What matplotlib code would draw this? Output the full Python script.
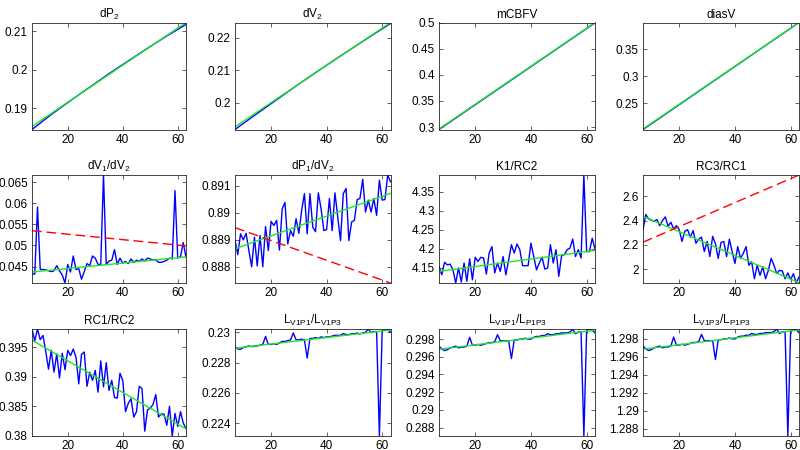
import matplotlib
matplotlib.use('Agg')
import matplotlib.pyplot as plt
import numpy as np

plt.rcParams['font.family'] = ['Liberation Sans', 'DejaVu Sans']
plt.rcParams['mathtext.fontset'] = 'custom'
plt.rcParams['mathtext.rm'] = 'Liberation Sans'
plt.rcParams['mathtext.it'] = 'Liberation Sans:italic'
plt.rcParams['mathtext.default'] = 'regular'
plt.rcParams['font.size'] = 8.5

# x axis: index of the sample
x = list(range(7, 64))
x_coarse = [7, 14, 21, 28, 35, 42, 49, 56, 63]
x_ends = [7, 63]
x_ticks = [20, 40, 60]

titles = ['dP$_2$', 'dV$_2$', 'mCBFV', 'diasV',
          'dV$_1$/dV$_2$', 'dP$_1$/dV$_2$', 'K1/RC2', 'RC3/RC1',
          'RC1/RC2', 'L$_{V1P1}$/L$_{V1P3}$', 'L$_{V1P1}$/L$_{P1P3}$', 'L$_{V1P3}$/L$_{P1P3}$']

# smooth ones (top row), read every 7 samples
dP2 = [0.1845, 0.1884, 0.1920, 0.1955, 0.1990, 0.2023, 0.2056, 0.2088, 0.2118]
dV2 = [0.1919, 0.1962, 0.2004, 0.2046, 0.2087, 0.2127, 0.2166, 0.2205, 0.2243]
mCBFV = [0.2955, 0.3210, 0.3465, 0.3720, 0.3975, 0.4230, 0.4485, 0.4740, 0.4995]
diasV = [0.2015, 0.2262, 0.2510, 0.2757, 0.3005, 0.3252, 0.3500, 0.3747, 0.3995]

dV1_dV2 = [0.0433, 0.0432, 0.0591, 0.0443, 0.0443, 0.0442, 0.0440, 0.0438, 0.0440, 0.0452,
           0.0440, 0.0430, 0.0411, 0.0455, 0.0437, 0.0475, 0.0443, 0.0445, 0.0420, 0.0438,
           0.0457, 0.0452, 0.0475, 0.0470, 0.0455, 0.0455, 0.0667, 0.0455, 0.0463, 0.0465,
           0.0490, 0.0455, 0.0470, 0.0458, 0.0462, 0.0457, 0.0468, 0.0460, 0.0465, 0.0462,
           0.0468, 0.0463, 0.0470, 0.0468, 0.0465, 0.0466, 0.0460, 0.0460, 0.0462, 0.0465,
           0.0470, 0.0468, 0.0630, 0.0470, 0.0473, 0.0507, 0.0472]

dP1_dV2 = [0.8890, 0.88845, 0.88922, 0.8890, 0.88924, 0.8886, 0.8880, 0.8891, 0.88803, 0.88916,
           0.8880, 0.88949, 0.8886, 0.88968, 0.88953, 0.88972, 0.88862, 0.89015, 0.89038, 0.88885,
           0.88934, 0.88913, 0.88978, 0.88924, 0.89009, 0.89071, 0.88922, 0.89071, 0.88947, 0.8893,
           0.89074, 0.89015, 0.88934, 0.88938, 0.89053, 0.88934, 0.89074, 0.88984, 0.88897, 0.89071,
           0.8909, 0.88897, 0.88966, 0.88972, 0.89049, 0.89053, 0.89124, 0.89003, 0.89047, 0.89003,
           0.89053, 0.8899, 0.89121, 0.89047, 0.89049, 0.8914, 0.89115]

K1_RC2 = [4.154, 4.132, 4.165, 4.158, 4.160, 4.145, 4.1105, 4.150, 4.113, 4.163,
          4.115, 4.174, 4.119, 4.178, 4.167, 4.178, 4.176, 4.134, 4.189, 4.206,
          4.137, 4.163, 4.141, 4.180, 4.132, 4.171, 4.211, 4.189, 4.213, 4.198,
          4.156, 4.156, 4.156, 4.215, 4.180, 4.145, 4.163, 4.178, 4.147, 4.150,
          4.211, 4.163, 4.198, 4.128, 4.182, 4.185, 4.198, 4.202, 4.226, 4.180,
          4.198, 4.176, 4.394, 4.193, 4.193, 4.228, 4.200]

RC3_RC1 = [2.323, 2.45, 2.414, 2.403, 2.394, 2.408, 2.358, 2.40, 2.43, 2.353,
           2.386, 2.331, 2.358, 2.325, 2.228, 2.311, 2.325, 2.264, 2.317, 2.214,
           2.247, 2.264, 2.145, 2.228, 2.104, 2.27, 2.209, 2.089, 2.22, 2.228,
           2.104, 2.247, 2.145, 2.047, 2.186, 2.089, 2.13, 2.186, 2.033, 2.061,
           1.922, 2.033, 1.95, 2.02, 1.922, 1.991, 2.089, 2.033, 1.964, 1.991,
           1.986, 1.922, 1.97, 1.914, 1.964, 1.887, 1.936]

RC1_RC2 = [0.3981, 0.3961, 0.3981, 0.3963, 0.3970, 0.3943, 0.3913, 0.3945, 0.3908, 0.3939,
           0.3898, 0.3940, 0.3912, 0.3945, 0.3936, 0.3947, 0.3933, 0.3888, 0.3938, 0.3942,
           0.3884, 0.3908, 0.3894, 0.3911, 0.3874, 0.3927, 0.3883, 0.3924, 0.3877, 0.3894,
           0.3865, 0.3864, 0.3906, 0.3894, 0.3841, 0.3855, 0.3863, 0.3832, 0.3841, 0.3884,
           0.3880, 0.3808, 0.3844, 0.3847, 0.3853, 0.3870, 0.3832, 0.3837, 0.3837, 0.3818,
           0.3850, 0.37998, 0.3838, 0.3816, 0.3841, 0.3822, 0.3812]

LV1P1_LV1P3 = [0.22905, 0.2289, 0.22888, 0.2290, 0.22905, 0.2291, 0.22905, 0.2291, 0.2291, 0.22915,
               0.2292, 0.22973, 0.2292, 0.2292, 0.22925, 0.2292, 0.2293, 0.2294, 0.2294, 0.22945,
               0.2295, 0.22996, 0.2295, 0.2295, 0.22955, 0.2295, 0.2283, 0.2296, 0.2296, 0.22965,
               0.2296, 0.2297, 0.22965, 0.2297, 0.2297, 0.22975, 0.2298, 0.2298, 0.2298, 0.22992,
               0.22985, 0.22985, 0.2299, 0.2299, 0.22995, 0.2299, 0.22995, 0.2300, 0.23022, 0.22998,
               0.23005, 0.23005, 0.22315, 0.2301, 0.23015, 0.2302, 0.2300]

LV1P1_LP1P3 = [0.2972, 0.2969, 0.2967, 0.2968, 0.2970, 0.2971, 0.2972, 0.2970, 0.2971, 0.2971,
               0.2972, 0.2982, 0.2973, 0.2973, 0.2974, 0.2973, 0.2974, 0.2975, 0.2976, 0.2976,
               0.2977, 0.2985, 0.2978, 0.2978, 0.2978, 0.2978, 0.2958, 0.2979, 0.2979, 0.2980,
               0.2980, 0.2981, 0.2980, 0.2980, 0.2982, 0.2983, 0.2983, 0.2984, 0.2984, 0.2986,
               0.2985, 0.2985, 0.2986, 0.2986, 0.2987, 0.2987, 0.2987, 0.2988, 0.2991, 0.2986,
               0.2988, 0.2988, 0.28705, 0.2990, 0.29914, 0.2990, 0.2987]

LV1P3_LP1P3 = [1.2972, 1.2969, 1.2967, 1.2968, 1.2970, 1.2971, 1.2972, 1.2970, 1.2971, 1.2971,
               1.2972, 1.2982, 1.2973, 1.2973, 1.2974, 1.2973, 1.2974, 1.2975, 1.2976, 1.2976,
               1.2977, 1.2985, 1.2978, 1.2978, 1.2978, 1.2978, 1.2957, 1.2979, 1.2979, 1.2980,
               1.2980, 1.2981, 1.2980, 1.2980, 1.2982, 1.2983, 1.2983, 1.2984, 1.2984, 1.2986,
               1.2985, 1.2985, 1.2986, 1.2986, 1.2987, 1.2987, 1.2987, 1.2988, 1.2991, 1.2986,
               1.2988, 1.2988, 1.28718, 1.2989, 1.29904, 1.2990, 1.2987]

series = [dP2, dV2, mCBFV, diasV, dV1_dV2, dP1_dV2, K1_RC2, RC3_RC1,
          RC1_RC2, LV1P1_LV1P3, LV1P1_LP1P3, LV1P3_LP1P3]

# green fitted trend, value at first and last sample
fit_lines = [[0.1853, 0.2123], [0.1927, 0.2246], [0.2965, 0.5001], [0.2025, 0.3995],
             [0.0437, 0.0473], [0.88867, 0.89072], [4.141, 4.196], [2.435, 1.890],
             [0.3962, 0.3812], [0.22895, 0.23015], [0.29685, 0.2990], [1.29685, 1.2990]]

# red dashed reference lines (only three panels)
ref_lines = {4: [0.0535, 0.0499], 5: [0.88945, 0.8874], 7: [2.222, 2.774]}

y_ticks = [[0.19, 0.2, 0.21], [0.2, 0.21, 0.22], [0.3, 0.35, 0.4, 0.45, 0.5], [0.25, 0.3, 0.35],
           [0.045, 0.05, 0.055, 0.06, 0.065], [0.888, 0.889, 0.89, 0.891],
           [4.15, 4.2, 4.25, 4.3, 4.35], [2, 2.2, 2.4, 2.6],
           [0.38, 0.385, 0.39, 0.395], [0.224, 0.226, 0.228, 0.23],
           [0.288, 0.29, 0.292, 0.294, 0.296, 0.298], [1.288, 1.29, 1.292, 1.294, 1.296, 1.298]]

# axes boxes in pixels (matlab-ish layout)
lefts = [32, 235, 439, 643]
rights = [186, 390.5, 595, 799]
tops = [22.5, 175, 329]
bottoms = [129.5, 283, 436]

W, H = 800, 450
fig = plt.figure(figsize=(8, 4.5), dpi=100)
dark = '#262626'

for k in range(12):
    r = k // 4
    c = k % 4
    ax = fig.add_axes([lefts[c] / W, (H - bottoms[r]) / H,
                       (rights[c] - lefts[c]) / W, (bottoms[r] - tops[r]) / H])
    yy = series[k]
    xx = x_coarse if len(yy) == len(x_coarse) else x
    ax.plot(xx, yy, color='#0000ff', lw=1.0)
    ax.plot(x_ends, fit_lines[k], color='#1fe81f', lw=1.0)
    allv = list(yy) + fit_lines[k]
    if k in ref_lines:
        ax.plot(x_ends, ref_lines[k], color='#ff0000', lw=1.0, dashes=(7, 3.5))
        allv += ref_lines[k]
    ax.set_xlim(7, 63)
    ax.set_ylim(min(allv), max(allv))
    ax.set_xticks(x_ticks)
    ax.set_xticklabels([str(t) for t in x_ticks])
    ax.set_yticks(y_ticks[k])
    ax.set_yticklabels(['%g' % t for t in y_ticks[k]])
    ax.tick_params(direction='in', top=True, right=True, length=3, width=0.5,
                   colors=dark, labelcolor='black', labelsize=8.5, pad=3)
    for s in ax.spines.values():
        s.set_color(dark)
        s.set_linewidth(0.6)
    ax.set_title(titles[k], fontsize=8.5, pad=3.5)

fig.savefig('out.png', dpi=100)
